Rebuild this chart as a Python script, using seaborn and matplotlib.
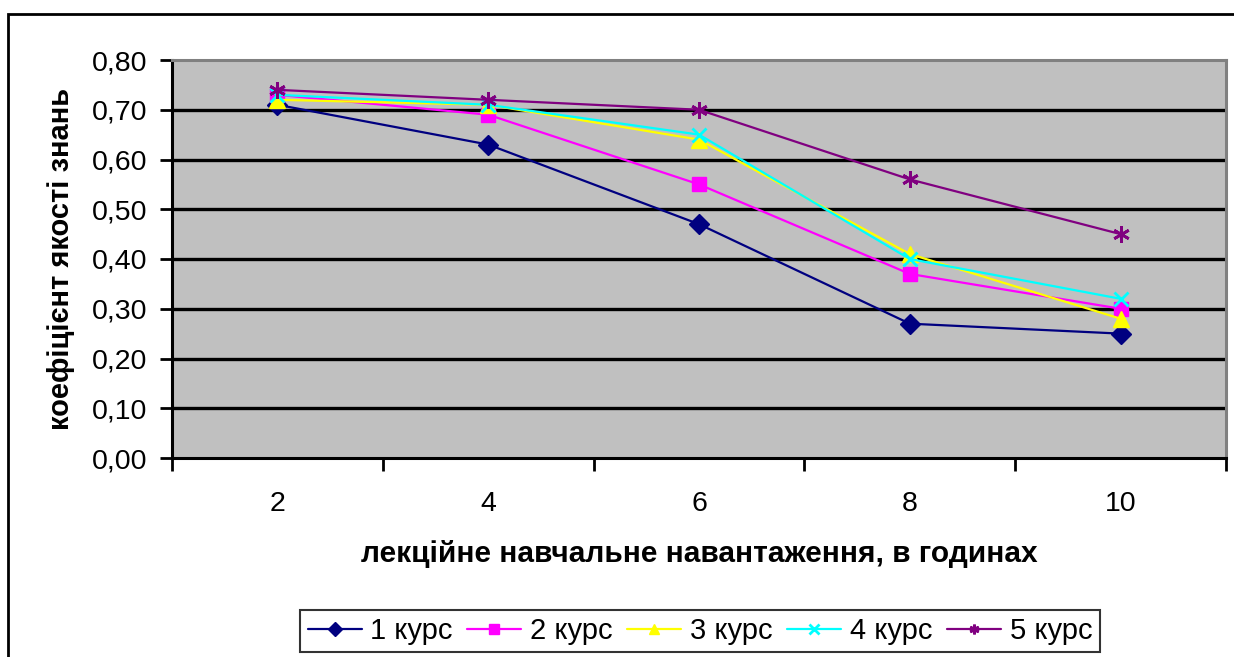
import matplotlib
matplotlib.use("Agg")
import matplotlib.pyplot as plt
from matplotlib.patches import Rectangle
from matplotlib.lines import Line2D
from matplotlib.ticker import FixedLocator, FuncFormatter
import seaborn as sns
import pandas as pd

# lecture load, hours
hours = ["2", "4", "6", "8", "10"]
course_names = ["1 курс", "2 курс", "3 курс", "4 курс", "5 курс"]
course1 = [0.71, 0.63, 0.47, 0.27, 0.25]
course2 = [0.73, 0.69, 0.55, 0.37, 0.30]
course3 = [0.72, 0.71, 0.64, 0.41, 0.28]
course4 = [0.73, 0.71, 0.65, 0.40, 0.32]
course5 = [0.74, 0.72, 0.70, 0.56, 0.45]

series = [course1, course2, course3, course4, course5]
colors = ["#000080", "#FF00FF", "#FFFF00", "#00FFFF", "#800080"]
markers = ["D", "s", "^", "x", (6, 2, 0)]
msizes = [10, 10, 11, 10, 12]

rows = []
for name, vals in zip(course_names, series):
    for i, v in enumerate(vals):
        rows.append({"pos": i, "hours": hours[i], "course": name, "value": v})
df = pd.DataFrame(rows)

sns.set_theme(style="white")
plt.rcParams["font.family"] = ["Liberation Sans", "DejaVu Sans"]
plt.rcParams["text.color"] = "black"
plt.rcParams["axes.labelcolor"] = "black"

fig = plt.figure(figsize=(12.34, 6.57), dpi=100)
ax = fig.add_axes([172 / 1234, 1 - 458 / 657, (1226 - 172) / 1234, (458 - 60) / 657])
ax.set_facecolor("#C0C0C0")

legend_handles = []
for name, col, mk, ms in zip(course_names, colors, markers, msizes):
    sub = df[df["course"] == name]
    thin = mk in ("x",) or isinstance(mk, tuple)
    mew = 2 if thin else 1
    sns.lineplot(data=sub, x="pos", y="value", ax=ax, color=col, marker=mk,
                 markersize=ms, markeredgecolor=col, markeredgewidth=mew,
                 linewidth=1.6, legend=False, zorder=3)
    legend_handles.append(Line2D([], [], color=col, marker=mk, markersize=7,
                                 markeredgecolor=col, markeredgewidth=mew, linewidth=1.6))

ax.set_xlim(-0.5, len(hours) - 0.5)
ax.set_ylim(0, 0.8)

# horizontal gridlines
yt = [i / 10 for i in range(9)]
ax.yaxis.set_major_locator(FixedLocator(yt))
ax.yaxis.set_major_formatter(FuncFormatter(lambda v, p: f"{v:.2f}".replace(".", ",")))
for y in yt[1:-1]:
    ax.axhline(y, color="black", linewidth=2.4, zorder=1)

# category labels centred, tick marks between categories
ax.xaxis.set_major_locator(FixedLocator(list(range(len(hours)))))
ax.set_xticklabels(hours)
ax.xaxis.set_minor_locator(FixedLocator([i - 0.5 for i in range(len(hours) + 1)]))
ax.tick_params(axis="x", which="major", length=0, pad=24, labelsize=20.5, colors="black",
               bottom=True)
ax.tick_params(axis="x", which="minor", length=9, width=2, direction="out", colors="black",
               bottom=True)
ax.tick_params(axis="y", which="major", length=9, width=2, direction="out", labelsize=20.5,
               pad=9, colors="black", left=True)

for side in ("left", "bottom"):
    ax.spines[side].set_color("black")
    ax.spines[side].set_linewidth(2.2)
for side in ("top", "right"):
    ax.spines[side].set_color("#808080")
    ax.spines[side].set_linewidth(2.2)

ax.set_xlabel("лекційне навчальне навантаження, в годинах", fontsize=21.5,
              fontweight="bold", labelpad=16, color="black")
ax.set_ylabel("коефіцієнт якості знань", fontsize=21, fontweight="bold", labelpad=12,
              color="black")

leg = fig.legend(legend_handles, course_names, loc="center",
                 bbox_to_anchor=(700 / 1234, 1 - 631 / 657),
                 ncol=5, fontsize=21, frameon=True, fancybox=False, handlelength=1.85,
                 handletextpad=0.3, columnspacing=0.5, borderpad=0.25, labelcolor="black")
leg.get_frame().set_edgecolor("black")
leg.get_frame().set_linewidth(1.5)

# chart border
fig.patches.append(Rectangle((8 / 1234, -0.05), 1.1, 1 - 14 / 657 + 0.05,
                             transform=fig.transFigure, fill=False, edgecolor="black",
                             linewidth=2, zorder=0))

fig.savefig("out.png", dpi=100)
